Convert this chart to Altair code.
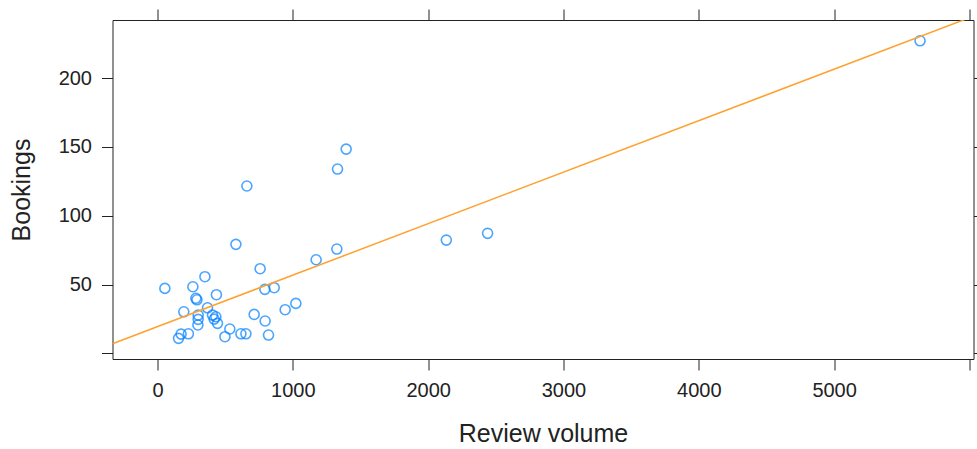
import altair as alt
import pandas as pd

# Values
review_volume = [5635, 1394, 1330, 660, 579, 1325, 2134, 2439, 1172, 758,
                 350, 54, 261, 793, 862, 435, 283, 291, 1022, 943,
                 369, 194, 714, 795, 300, 300, 298, 406, 431, 443,
                 418, 534, 174, 155, 228, 498, 616, 653, 820]
bookings = [227.1, 148.4, 133.9, 121.6, 79.2, 75.8, 82.3, 87.2, 68.0, 61.5,
            55.7, 47.2, 48.4, 46.5, 47.7, 42.6, 40.0, 38.9, 36.3, 31.7,
            33.1, 30.2, 28.3, 23.5, 27.8, 24.7, 20.6, 27.8, 26.6, 21.8,
            24.9, 17.7, 14.0, 10.9, 14.2, 12.1, 14.2, 14.2, 13.3]

x_ticks = [0, 1000, 2000, 3000, 4000, 5000, 6000]
y_ticks = [0, 50, 100, 150, 200]
x_domain = [-333, 6030]
y_domain = [-4.1, 242.2]

df = pd.DataFrame({"volume": review_volume, "bookings": bookings})

FONT = "Liberation Sans"
INK = "#222222"

x_scale = alt.Scale(domain=x_domain, nice=False, zero=False)
y_scale = alt.Scale(domain=y_domain, nice=False, zero=False)

common_axis = dict(grid=False, domain=False, tickSize=11, tickColor=INK,
                   tickWidth=1, labelFont=FONT, labelFontSize=20,
                   labelColor=INK, titleFont=FONT, titleFontSize=25,
                   titleFontWeight="normal", titleColor=INK, labelPadding=10,
                   format="d")

points = alt.Chart(df).mark_point(
    shape="circle", filled=False, size=100, strokeWidth=1.6, color="#0080ff"
).encode(
    x=alt.X("volume:Q", scale=x_scale,
            axis=alt.Axis(orient="bottom", values=x_ticks, title="Review volume",
                          labelExpr="datum.value == 6000 ? '' : datum.label",
                          titlePadding=21, **common_axis)),
    y=alt.Y("bookings:Q", scale=y_scale,
            axis=alt.Axis(orient="left", values=y_ticks, title="Bookings",
                          labelExpr="datum.value == 0 ? '' : datum.label",
                          titlePadding=24, **common_axis)),
)

line = alt.Chart(df).transform_regression(
    "volume", "bookings", extent=x_domain
).mark_line(color="#FFA12E", strokeWidth=1.5, clip=True).encode(
    x=alt.X("volume:Q", scale=x_scale,
            axis=alt.Axis(orient="top", values=x_ticks, labels=False, title=None,
                          **common_axis)),
    y=alt.Y("bookings:Q", scale=y_scale,
            axis=alt.Axis(orient="right", values=y_ticks, labels=False, title=None,
                          **common_axis)),
)

chart = alt.layer(points, line).resolve_axis(
    x="independent", y="independent"
).properties(
    width=861, height=339,
    padding={"left": 112.5, "top": 20, "right": 3.5, "bottom": 90},
    autosize=alt.AutoSizeParams(type="none"),
    background="white",
).configure_view(stroke=INK, strokeWidth=1)

chart.save("out.html", embed_options={"renderer": "svg", "actions": False})
